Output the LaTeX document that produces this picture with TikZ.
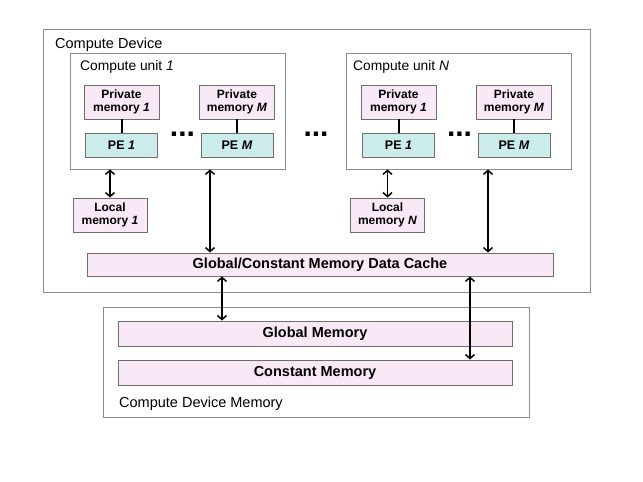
\documentclass[tikz,border=0pt]{standalone}
\usepackage{fontspec}
\setmainfont{Liberation Sans}
\usetikzlibrary{arrows.meta}
\definecolor{pinkfill}{RGB}{249,232,245}
\definecolor{pefill}{RGB}{204,236,235}
\definecolor{boxline}{RGB}{110,110,110}
\definecolor{outerline}{RGB}{140,140,140}
\begin{document}
\begin{tikzpicture}[x=1pt,y=-1pt,
  outerbox/.style={draw=outerline,line width=0.8pt,fill=white,inner sep=0pt},
  pmbox/.style={draw=boxline,line width=0.9pt,fill=pinkfill,minimum width=75pt,minimum height=34pt,inner sep=0pt,align=center,font=\fontsize{12}{13}\selectfont\bfseries},
  pebox/.style={draw=boxline,line width=0.9pt,fill=pefill,minimum width=72pt,minimum height=24pt,inner sep=0pt,font=\fontsize{12.5}{14}\selectfont\bfseries},
  widebox/.style={draw=boxline,line width=0.9pt,fill=pinkfill,inner sep=0pt,font=\fontsize{14.5}{16}\selectfont\bfseries},
  lbl/.style={anchor=west,inner sep=0pt,font=\fontsize{14.5}{16}\selectfont},
  ulbl/.style={anchor=west,inner sep=0pt,font=\fontsize{13.8}{16}\selectfont},
  dotstext/.style={anchor=base,inner sep=0pt,font=\fontsize{30}{30}\selectfont\bfseries},
  link/.style={line width=2pt,black},
  arr/.style={line width=1.5pt,black,{Straight Barb[length=4pt,width=9pt]}-{Straight Barb[length=4pt,width=9pt]}}
]
\useasboundingbox (0,0) rectangle (643,482);
\fill[white] (0,0) rectangle (643,482);

% Compute device
\node[outerbox,minimum width=547pt,minimum height=263pt] (device) at (316.5,160.5) {};
\node[lbl] (devlbl) at (55,45) {Compute Device};

% Compute unit 1
\node[outerbox,minimum width=215pt,minimum height=116pt] (unit1) at (177.5,111) {};
\node[ulbl] (u1lbl) at (80,67) {Compute unit \textit{1}};
\node[pmbox] (pm1a) at (121.5,102) {Private\\memory \textit{1}};
\node[pebox] (pe1a) at (121.5,145) {PE \textit{1}};
\node[pmbox] (pmMa) at (237,102) {Private\\memory \textit{M}};
\node[pebox] (peMa) at (237,145) {PE \textit{M}};
\draw[link] (pm1a) -- (pe1a);
\draw[link] (pmMa) -- (peMa);
\node[dotstext] (dotsa) at (182.5,136) {...};

% Compute unit N
\node[outerbox,minimum width=225pt,minimum height=116pt] (unitN) at (458.5,111) {};
\node[ulbl] (uNlbl) at (353,67) {Compute unit \textit{N}};
\node[pmbox] (pm1b) at (398.5,102) {Private\\memory \textit{1}};
\node[pebox] (pe1b) at (398.5,145) {PE \textit{1}};
\node[pmbox] (pmMb) at (514,102) {Private\\memory \textit{M}};
\node[pebox] (peMb) at (514,145) {PE \textit{M}};
\draw[link] (pm1b) -- (pe1b);
\draw[link] (pmMb) -- (peMb);
\node[dotstext] (dotsb) at (459.5,136) {...};

\node[dotstext] (dotsmid) at (316,136) {...};

% Local memories
\node[pmbox,minimum width=74pt] (local1) at (110,215) {Local\\memory \textit{1}};
\node[pmbox,minimum width=74pt] (localN) at (387.5,215) {Local\\memory \textit{N}};

% Cache
\node[widebox,minimum width=466pt,minimum height=23pt] (cache) at (320,264.5) {Global/Constant Memory Data Cache};

% Compute device memory
\node[outerbox,minimum width=426pt,minimum height=110pt] (devmem) at (316,362) {};
\node[widebox,minimum width=394pt,minimum height=25pt] (global) at (315,333.5) {Global Memory};
\node[widebox,minimum width=394pt,minimum height=25pt] (const) at (315,372.5) {Constant Memory};
\node[lbl] (memlbl) at (119,404) {Compute Device Memory};

% arrow x positions
\coordinate (xa) at (210,0);
\coordinate (xb) at (488,0);
\coordinate (xc) at (222,0);
\coordinate (xd) at (470,0);

\draw[arr] (local1.north |- unit1.south) -- (local1.north);
\draw[arr] (localN.north |- unitN.south) -- (localN.north);
\draw[arr] (unit1.south -| xa) -- (cache.north -| xa);
\draw[arr] (unitN.south -| xb) -- (cache.north -| xb);
\draw[arr] (cache.south -| xc) -- (global.north -| xc);
\draw[arr] (cache.south -| xd) -- (const.north -| xd);
\end{tikzpicture}
\end{document}
